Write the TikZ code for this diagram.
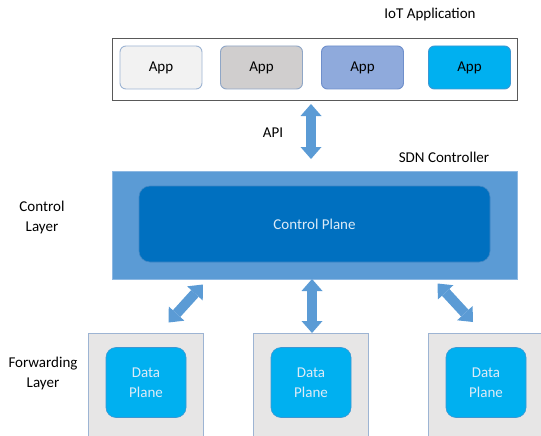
\documentclass[tikz,border=0pt]{standalone}
\usepackage{fontspec}
\setmainfont{Carlito}
\usetikzlibrary{arrows.meta}

\definecolor{appAfill}{HTML}{F2F2F2}
\definecolor{appAline}{HTML}{9DB4D3}
\definecolor{appBfill}{HTML}{D0CECE}
\definecolor{appBline}{HTML}{8FA6C6}
\definecolor{appCfill}{HTML}{8FAADC}
\definecolor{appCline}{HTML}{6F8FCB}
\definecolor{appDfill}{HTML}{00B0F0}
\definecolor{appDline}{HTML}{3C97D3}
\definecolor{frameline}{HTML}{595959}
\definecolor{ctrlfill}{HTML}{5B9BD5}
\definecolor{ctrlline}{HTML}{8DB8E2}
\definecolor{planefill}{HTML}{0070C0}
\definecolor{planeline}{HTML}{3F86C4}
\definecolor{planetext}{HTML}{DDEBF7}
\definecolor{fwdfill}{HTML}{E7E6E6}
\definecolor{fwdline}{HTML}{9DB4D3}
\definecolor{arrowblue}{HTML}{5B9BD5}

\tikzset{
  every node/.style={font=\fontsize{15}{19.5}\selectfont},
  appbox/.style={draw, rounded corners=6pt, line width=0.9pt, inner sep=0pt,
    minimum width=82pt, minimum height=43pt, text=black},
  region/.style={inner sep=0pt, anchor=north west},
  label/.style={text=black, align=center, inner sep=0pt},
  dataplane/.style={draw=appDline, fill=appDfill, rounded corners=10pt, line width=0.6pt,
    inner sep=0pt, minimum width=80pt, minimum height=70pt, text=planetext, align=center,
    font=\fontsize{15}{20.5}\selectfont},
  fwdbox/.style={draw=fwdline, fill=fwdfill, line width=0.8pt, inner sep=0pt,
    minimum width=115pt, minimum height=110pt, anchor=north west},
  blockarrow/.style={draw=arrowblue, line width=10pt,
    {Triangle[width=21pt,length=12pt,line width=0pt]}-{Triangle[width=21pt,length=12pt,line width=0pt]}},
}

\begin{document}
\begin{tikzpicture}[x=1pt, y=-1pt]
\useasboundingbox (0,0) rectangle (541,436);

% application layer
\node[label] (iottitle) at (430,15) {IoT Application};
\node[draw=frameline, line width=0.9pt, fill=white, region,
  minimum width=405pt, minimum height=62pt] (apps) at (112,38) {};
\node[appbox, draw=appAline, fill=appAfill] (app1) at (161,67.5) {App};
\node[appbox, draw=appBline, fill=appBfill] (app2) at (261.5,67.5) {App};
\node[appbox, draw=appCline, fill=appCfill] (app3) at (362.5,67.5) {App};
\node[appbox, draw=appDline, fill=appDfill] (app4) at (469.5,67.5) {App};

% northbound interface
\node[label] (api) at (273,133) {API};
\coordinate (apitop) at (311,104);
\coordinate (apibot) at (311,159);
\draw[blockarrow] (apitop) -- (apibot);

% control layer
\node[label] (sdn) at (444,157) {SDN Controller};
\node[draw=ctrlline, fill=ctrlfill, line width=0.8pt, region,
  minimum width=405pt, minimum height=108pt] (ctrl) at (112,171) {};
\node[draw=planeline, fill=planefill, rounded corners=11pt, line width=0.6pt,
  inner sep=0pt, minimum width=351pt, minimum height=76pt, text=planetext]
  (cplane) at (314.5,224) {Control Plane};
\node[label] (ctrllayer) at (42,217.5) {Control\\Layer};

% forwarding layer
\node[label] (fwdlayer) at (43,373.5) {Forwarding\\Layer};
\node[fwdbox] (fwd1) at (88,333) {};
\node[fwdbox] (fwd2) at (253,333) {};
\node[fwdbox] (fwd3) at (428,333) {};
\node[dataplane] (dp1) at (146,382.5) {Data\\Plane};
\node[dataplane] (dp2) at (311,382.5) {Data\\Plane};
\node[dataplane] (dp3) at (486,382.5) {Data\\Plane};

% southbound links
\coordinate (s1a) at (168.5,322.5);
\coordinate (s1b) at (203,284.5);
\coordinate (s2a) at (312,279);
\coordinate (s2b) at (312,333);
\coordinate (s3a) at (437.5,283.5);
\coordinate (s3b) at (473,322);
\draw[blockarrow] (s1a) -- (s1b);
\draw[blockarrow] (s2a) -- (s2b);
\draw[blockarrow] (s3a) -- (s3b);
\end{tikzpicture}
\end{document}
